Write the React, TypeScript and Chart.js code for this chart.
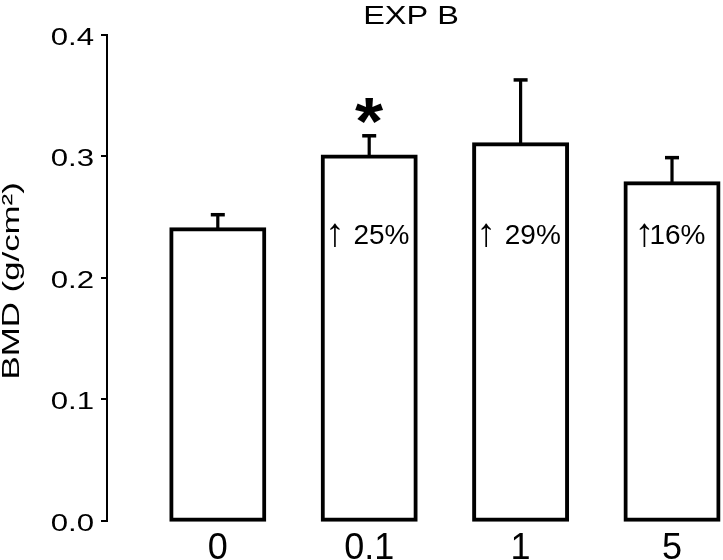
import { useEffect, useRef } from 'react';
import { Chart, registerables } from 'chart.js';

Chart.register(...registerables);

// ---- data ----
const categories = ['0', '0.1', '1', '5'];
const bmdMeans = [0.24, 0.3, 0.31, 0.278];
const bmdErrors = [0.012, 0.017, 0.053, 0.021];
const changeLabels = ['', '↑ 25%', '↑ 29%', '↑16%'];
const significance = ['', '*', '', ''];
const yTickValues = [0, 0.1, 0.2, 0.3, 0.4];
const chartTitle = 'EXP B';
const yAxisTitle = 'BMD (g/cm²)';

// ---- style constants ----
const FONT = '"Liberation Sans", Arial, Helvetica, sans-serif';
const ANNOTATION_LEVEL = 0.2275; // y value of the percentage labels' baseline
const WIDE = 1.3; // horizontal stretch of the axis typography

type TextOpts = {
  size: number;
  weight?: string;
  sx?: number;
  align?: CanvasTextAlign;
  baseline?: CanvasTextBaseline;
  rotate?: number;
};

function drawText(ctx: CanvasRenderingContext2D, text: string, x: number, y: number, o: TextOpts) {
  ctx.save();
  ctx.translate(x, y);
  if (o.rotate) ctx.rotate(o.rotate);
  ctx.scale(o.sx ?? 1, 1);
  ctx.font = `${o.weight ?? 'normal'} ${o.size}px ${FONT}`;
  ctx.textAlign = o.align ?? 'center';
  ctx.textBaseline = o.baseline ?? 'alphabetic';
  ctx.fillStyle = '#000000';
  ctx.fillText(text, 0, 0);
  ctx.restore();
}

// percentage label: a tall thin arrow followed by the number, centred on cx
function drawChange(ctx: CanvasRenderingContext2D, label: string, cx: number, baseY: number) {
  const arrow = label.charAt(0);
  const rest = label.slice(1);
  ctx.save();
  ctx.fillStyle = '#000000';
  ctx.textBaseline = 'alphabetic';
  ctx.textAlign = 'left';
  ctx.font = `normal 100px ${FONT}`;
  const a100 = ctx.measureText(arrow);
  const aH100 = a100.actualBoundingBoxAscent + a100.actualBoundingBoxDescent;
  const aSize = (100 * 24) / (aH100 || 24);
  ctx.font = `normal ${aSize}px ${FONT}`;
  const am = ctx.measureText(arrow);
  const aInkW = am.actualBoundingBoxRight + am.actualBoundingBoxLeft;
  ctx.font = `normal 28px ${FONT}`;
  const rm = ctx.measureText(rest);
  const inkGap = rest.startsWith(' ') ? 14.5 : 2;
  const restInkW = rm.actualBoundingBoxRight + rm.actualBoundingBoxLeft;
  const total = aInkW + inkGap + restInkW;
  const left = cx - total / 2;
  ctx.font = `normal ${aSize}px ${FONT}`;
  const arrowBase = baseY + 3.5 - am.actualBoundingBoxDescent;
  ctx.fillText(arrow, left + am.actualBoundingBoxLeft, arrowBase);
  ctx.font = `normal 28px ${FONT}`;
  ctx.fillText(rest, left + aInkW + inkGap + rm.actualBoundingBoxLeft, baseY);
  ctx.restore();
}

const decorations = {
  id: 'decorations',
  afterDatasetsDraw(chart: any) {
    const ctx: CanvasRenderingContext2D = chart.ctx;
    const xs = chart.scales.x;
    const ys = chart.scales.y;
    ctx.save();
    ctx.fillStyle = '#000000';
    categories.forEach((_, i) => {
      const x = xs.getPixelForValue(i);
      const yBar = ys.getPixelForValue(bmdMeans[i]);
      const yErr = ys.getPixelForValue(bmdMeans[i] + bmdErrors[i]);
      ctx.fillRect(x - 1.6, yErr, 3.2, yBar - yErr);
      ctx.fillRect(x - 7, yErr - 1.75, 14, 3.5);
    });
    ctx.restore();
  },
  afterDraw(chart: any) {
    const ctx: CanvasRenderingContext2D = chart.ctx;
    const xs = chart.scales.x;
    const ys = chart.scales.y;
    const area = chart.chartArea;

    // y tick labels
    ys.ticks.forEach((t: any) => {
      const y = ys.getPixelForValue(t.value);
      drawText(ctx, Number(t.value).toFixed(1), ys.right - 13, y + 10, { size: 24, sx: WIDE, align: 'right' });
    });

    // x category labels
    categories.forEach((c, i) => {
      drawText(ctx, c, xs.getPixelForValue(i), area.bottom + 38.5, { size: 36 });
    });

    // title
    drawText(ctx, chartTitle, (area.left + area.right) / 2 - 4, 23.5, { size: 25, sx: WIDE });

    // y axis title
    drawText(ctx, yAxisTitle, 19, (area.top + area.bottom) / 2 + 3, {
      size: 24,
      sx: 1.45,
      rotate: -Math.PI / 2,
    });

    // percentage change labels
    changeLabels.forEach((lab, i) => {
      if (!lab) return;
      drawChange(ctx, lab, xs.getPixelForValue(i), ys.getPixelForValue(ANNOTATION_LEVEL));
    });

    // significance marks
    significance.forEach((s, i) => {
      if (!s) return;
      ctx.save();
      ctx.font = `bold 100px ${FONT}`;
      const m = ctx.measureText(s);
      const inkH = m.actualBoundingBoxAscent + m.actualBoundingBoxDescent;
      const size = (100 * 25) / (inkH || 25);
      ctx.font = `bold ${size}px ${FONT}`;
      const m2 = ctx.measureText(s);
      const cx = xs.getPixelForValue(i);
      const cy = ys.getPixelForValue(bmdMeans[i] + bmdErrors[i]) - 25;
      const inkW = m2.actualBoundingBoxRight + m2.actualBoundingBoxLeft;
      const base = cy + (m2.actualBoundingBoxAscent - m2.actualBoundingBoxDescent) / 2;
      ctx.textAlign = 'left';
      ctx.textBaseline = 'alphabetic';
      ctx.fillStyle = '#000000';
      ctx.translate(cx, base);
      ctx.scale(1.1, 1);
      ctx.fillText(s, -inkW / 2 + m2.actualBoundingBoxLeft, 0);
      ctx.restore();
    });
  },
};

export default function App() {
  const canvasRef = useRef<HTMLCanvasElement | null>(null);

  useEffect(() => {
    const canvas = canvasRef.current;
    if (!canvas) return;
    const chart = new Chart(canvas, {
      type: 'bar',
      data: {
        datasets: [
          {
            label: 'BMD',
            data: categories.map((_, i) => ({ x: i, y: bmdMeans[i] })),
            backgroundColor: '#ffffff',
            borderColor: '#000000',
            borderWidth: 4,
            borderSkipped: false,
            inflateAmount: 2,
            barThickness: 93,
            clip: false,
          } as any,
        ],
      },
      options: {
        animation: false,
        responsive: false,
        events: [],
        layout: { padding: { top: 35, bottom: 39.3, left: 0, right: 0 } },
        plugins: {
          legend: { display: false },
          title: { display: false },
          tooltip: { enabled: false },
        },
        scales: {
          x: {
            type: 'linear',
            display: false,
            offset: false,
            min: -0.7318,
            max: 3.3368,
          },
          y: {
            type: 'linear',
            min: 0,
            max: 0.4,
            afterFit: (s: any) => {
              s.width = 107;
            },
            afterBuildTicks: (s: any) => {
              s.ticks = yTickValues.map((v) => ({ value: v }));
            },
            ticks: { display: false },
            grid: {
              display: true,
              drawOnChartArea: false,
              drawTicks: true,
              tickLength: 6,
              color: '#000000',
              lineWidth: 2,
            },
            border: { display: true, color: '#000000', width: 2 },
          },
        },
      },
      plugins: [decorations],
    });
    return () => chart.destroy();
  }, []);

  return (
    <div style={{ position: 'fixed', left: 0, top: 0, width: 723, height: 560, background: '#ffffff' }}>
      <canvas ref={canvasRef} width={723} height={560} style={{ display: 'block', width: 723, height: 560 }} />
    </div>
  );
}
